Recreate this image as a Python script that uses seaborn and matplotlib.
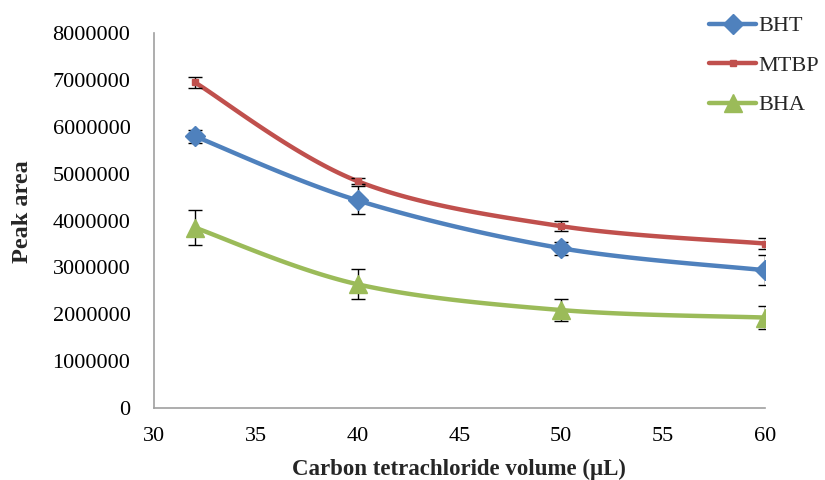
import numpy as np
import pandas as pd
import matplotlib
matplotlib.use("Agg")
import matplotlib.pyplot as plt
from matplotlib.lines import Line2D
import seaborn as sns

volume = [32, 40, 50, 60]
bht = [5800000, 4430000, 3410000, 2940000]
bht_err = [140000, 300000, 140000, 320000]
mtbp = [6950000, 4840000, 3880000, 3510000]
mtbp_err = [120000, 70000, 100000, 110000]
bha = [3850000, 2640000, 2090000, 1930000]
bha_err = [380000, 320000, 230000, 250000]

series = ["BHT", "MTBP", "BHA"]
colors = {"BHT": "#4F81BD", "MTBP": "#C0504D", "BHA": "#9BBB59"}
markers = {"BHT": "D", "MTBP": "s", "BHA": "^"}
msizes = {"BHT": 10, "MTBP": 4, "BHA": 13}


def smooth(x, y, n=40):
    # Bezier smoothing through the points (like Excel's smoothed line)
    x = np.asarray(x, float)
    y = np.asarray(y, float)
    px = np.concatenate([[x[0]], x, [x[-1]]])
    py = np.concatenate([[y[0]], y, [y[-1]]])
    xs, ys = [], []
    for i in range(1, len(px) - 2):
        p0, p1, p2, p3 = (np.array([px[j], py[j]]) for j in (i - 1, i, i + 1, i + 2))
        c1 = p1 + (p2 - p0) / 6.0
        c2 = p2 - (p3 - p1) / 6.0
        t = np.linspace(0, 1, n)[:, None]
        pts = ((1 - t) ** 3) * p1 + 3 * ((1 - t) ** 2) * t * c1 + 3 * (1 - t) * t ** 2 * c2 + t ** 3 * p2
        xs.extend(pts[:, 0])
        ys.extend(pts[:, 1])
    return np.array(xs), np.array(ys)


sns.set_theme(style="white")
plt.rcParams["font.family"] = ["Liberation Serif", "DejaVu Serif"]

fig = plt.figure(figsize=(8.25, 4.8), dpi=100)
ax = fig.add_axes([0.1867, 0.15, 0.927 - 0.1867, 0.931 - 0.15])

data = {"BHT": (bht, bht_err), "MTBP": (mtbp, mtbp_err), "BHA": (bha, bha_err)}
rows = []
for s in series:
    xs, ys = smooth(volume, data[s][0])
    for a, b in zip(xs, ys):
        rows.append({"x": a, "y": b, "series": s})
df = pd.DataFrame(rows)

for s in series:
    sub = df[df["series"] == s]
    sns.lineplot(data=sub, x="x", y="y", ax=ax, color=colors[s], linewidth=3.2,
                 sort=False, estimator=None, legend=False, zorder=2)
    vals, errs = data[s]
    ax.errorbar(volume, vals, yerr=errs, fmt="none", ecolor="black",
                elinewidth=1.0, capsize=5, capthick=1.0, zorder=3)
    ax.plot(volume, vals, linestyle="none", marker=markers[s], markersize=msizes[s],
            color=colors[s], markeredgecolor=colors[s], zorder=4)

ax.set_xlim(30, 60)
ax.set_ylim(0, 8000000)
ax.set_xticks([30, 35, 40, 45, 50, 55, 60])
ax.set_yticks(np.arange(0, 8000001, 1000000))
ax.set_yticklabels([str(int(v)) for v in np.arange(0, 8000001, 1000000)])
ax.tick_params(axis="both", labelsize=16, colors="black")
ax.tick_params(axis="x", direction="in", length=5, width=1, color="#A0A0A0", pad=14)
ax.tick_params(axis="y", length=0, pad=17)

for sp in ["top", "right"]:
    ax.spines[sp].set_visible(False)
for sp in ["left", "bottom"]:
    ax.spines[sp].set_color("#A0A0A0")
    ax.spines[sp].set_linewidth(1.2)

ax.set_xlabel("Carbon tetrachloride volume (\u00b5L)", fontsize=16.5, fontweight="bold", labelpad=9)
ax.set_ylabel("Peak area", fontsize=17.5, fontweight="bold")
ax.yaxis.set_label_coords(-0.198, 0.525)

handles = [Line2D([0], [0], color=colors[s], linewidth=3.2, marker=markers[s],
                  markersize=msizes[s], markeredgecolor=colors[s]) for s in series]
leg = fig.legend(handles, series, loc="upper left", bbox_to_anchor=(0.859, 0.967),
                 frameon=False, fontsize=16, handlelength=2.15, handletextpad=0.1,
                 labelspacing=0.85, borderaxespad=0.0, borderpad=0.0)

fig.savefig("out.png", dpi=100)
